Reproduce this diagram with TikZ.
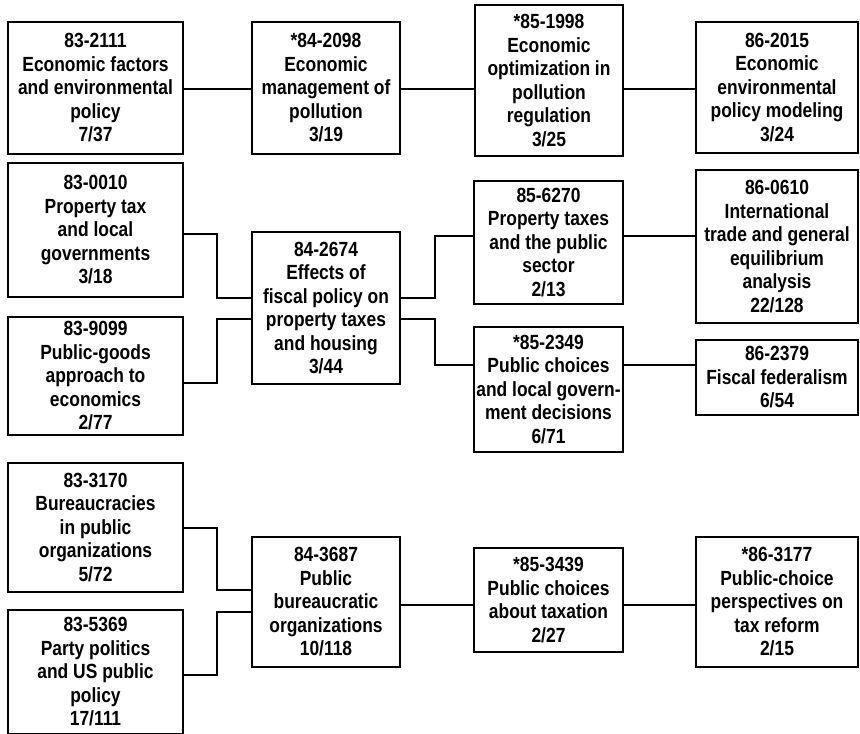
\documentclass[tikz,border=0pt]{standalone}
\usepackage{fontspec}
\newfontfamily\boxfont{Liberation Sans}[FakeStretch=0.85]
\tikzset{
  topic/.style={draw, line width=2.4pt, align=center, inner sep=0pt,
    font=\boxfont\bfseries\fontsize{20.5}{23.5}\selectfont},
  wire/.style={line width=1.8pt}
}

\begin{document}
\begin{tikzpicture}[x=1pt,y=-1pt]
    %\draw[help lines] (0,0) grid (860,734);
       \useasboundingbox (0,0) rectangle (860,734);
       % first row
       \node[topic, minimum width=175, minimum height=132] (a1) at (95.5,88) {83-2111\\Economic factors\\and environmental\\policy\\7/37};
       \node[topic, minimum width=148, minimum height=132] (a2) at (326,88) {*84-2098\\Economic\\management of\\pollution\\3/19};
       \node[topic, minimum width=148, minimum height=151] (a3) at (549,80.5) {*85-1998\\Economic\\optimization in\\pollution\\regulation\\3/25};
       \node[topic, minimum width=162, minimum height=131] (a4) at (777,87.5) {86-2015\\Economic\\environmental\\policy modeling\\3/24};
       % second row
       \node[topic, minimum width=175, minimum height=134] (b1) at (95.5,230) {83-0010\\Property tax\\and local\\governments\\3/18};
       \node[topic, minimum width=175, minimum height=118] (b2) at (95.5,376) {83-9099\\Public-goods\\approach to\\economics\\2/77};
       \node[topic, minimum width=148, minimum height=152] (b3) at (326,308) {84-2674\\Effects of\\fiscal policy on\\property taxes\\and housing\\3/44};
       \node[topic, minimum width=149, minimum height=123] (b4) at (548.5,242.5) {85-6270\\Property taxes\\and the public\\sector\\2/13};
       \node[topic, minimum width=149, minimum height=125] (b5) at (548.5,389.5) {*85-2349\\Public choices\\and local govern-\\ment decisions\\6/71};
       \node[topic, minimum width=162, minimum height=153] (b6) at (777,246.5) {86-0610\\International\\trade and general\\equilibrium\\analysis\\22/128};
       \node[topic, minimum width=162, minimum height=75] (b7) at (777,377.5) {86-2379\\Fiscal federalism\\6/54};
       % third row
       \node[topic, minimum width=175, minimum height=129] (c1) at (95.5,527.5) {83-3170\\Bureaucracies\\in public\\organizations\\5/72};
       \node[topic, minimum width=175, minimum height=124] (c2) at (95.5,672) {83-5369\\Party politics\\and US public\\policy\\17/111};
       \node[topic, minimum width=148, minimum height=130] (c3) at (326,602) {84-3687\\Public\\bureaucratic\\organizations\\10/118};
       \node[topic, minimum width=149, minimum height=104] (c4) at (548.5,600) {*85-3439\\Public choices\\about taxation\\2/27};
       \node[topic, minimum width=162, minimum height=130] (c5) at (777,602) {*86-3177\\Public-choice\\perspectives on\\tax reform\\2/15};
       % links
       \draw[wire] (a1.east |- 0,89) -- (a2.west |- 0,89);
       \draw[wire] (a2.east |- 0,89) -- (a3.west |- 0,89);
       \draw[wire] (a3.east |- 0,89) -- (a4.west |- 0,89);
       \draw[wire] (b1.east |- 0,234) -| (217,298) -- (b3.west |- 0,298);
       \draw[wire] (b2.east |- 0,383) -| (217,319) -- (b3.west |- 0,319);
       \draw[wire] (b3.east |- 0,298) -| (435,236) -- (b4.west |- 0,236);
       \draw[wire] (b3.east |- 0,319) -| (435,365) -- (b5.west |- 0,365);
       \draw[wire] (b4.east |- 0,236) -- (b6.west |- 0,236);
       \draw[wire] (b5.east |- 0,365) -- (b7.west |- 0,365);
       \draw[wire] (c1.east |- 0,528) -| (217,590) -- (c3.west |- 0,590);
       \draw[wire] (c2.east |- 0,675) -| (217,612) -- (c3.west |- 0,612);
       \draw[wire] (c3.east |- 0,605) -- (c4.west |- 0,605);
       \draw[wire] (c4.east |- 0,605) -- (c5.west |- 0,605);
\end{tikzpicture}
\end{document}
